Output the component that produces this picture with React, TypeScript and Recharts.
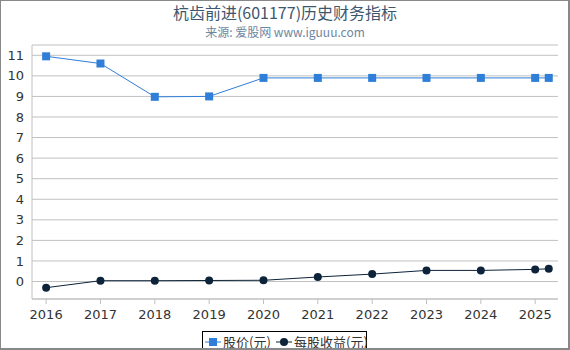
import { LineChart, Line, XAxis, YAxis, CartesianGrid } from 'recharts';

// x positions (years); the last point is a partial-year reading
const years = [2016, 2017, 2018, 2019, 2020, 2021, 2022, 2023, 2024, 2025, 2025.25];
const price = [10.95, 10.6, 8.98, 9.0, 9.9, 9.9, 9.9, 9.9, 9.9, 9.9, 9.9];
const eps = [-0.3, 0.04, 0.04, 0.05, 0.06, 0.22, 0.36, 0.54, 0.54, 0.59, 0.62];
const xTicks = [2016, 2017, 2018, 2019, 2020, 2021, 2022, 2023, 2024, 2025];
const yTicks = [0, 1, 2, 3, 4, 5, 6, 7, 8, 9, 10, 11];

const title = '杭齿前进(601177)历史财务指标';
const subtitle = '来源: 爱股网 www.iguuu.com';
const priceName = '股价(元)';
const epsName = '每股收益(元)';

const data = years.map((x, i) => ({ x, price: price[i], eps: eps[i] }));

const BLUE = '#2f7ed8';
const NAVY = '#0d233a';
const FONT = '"DejaVu Sans", "Noto Sans CJK SC", sans-serif';
const CJK = '"Noto Sans CJK SC", "DejaVu Sans", sans-serif';

const SquareDot = (props: any) => {
  const { cx, cy, index } = props;
  if (cx == null || cy == null) return null;
  return <rect key={`sq-${index}`} x={cx - 4} y={cy - 4} width={8} height={8} fill={BLUE} />;
};

const legendText: React.CSSProperties = {
  position: 'absolute',
  top: 3,
  lineHeight: '14px',
  fontFamily: CJK,
  fontSize: 13,
  color: '#333',
  whiteSpace: 'nowrap',
};

export default function App() {
  return (
    <div
      style={{
        position: 'absolute',
        left: 0,
        top: 0,
        width: 570,
        height: 350,
        overflow: 'hidden',
        background: '#fff',
      }}
    >
      <div
        style={{
          position: 'absolute',
          top: 2,
          width: 570,
          textAlign: 'center',
          fontFamily: CJK,
          fontSize: 16,
          color: '#3e576f',
          lineHeight: '20px',
        }}
      >
        {title}
      </div>
      <div
        style={{
          position: 'absolute',
          top: 24,
          width: 570,
          textAlign: 'center',
          fontFamily: CJK,
          fontSize: 12,
          color: '#6d869f',
          lineHeight: '16px',
        }}
      >
        {subtitle}
      </div>

      <div style={{ position: 'absolute', left: 0, top: 0 }}>
        <LineChart width={570} height={350} data={data} margin={{ top: 45, right: 12, left: 0, bottom: 31 }}>
          <CartesianGrid horizontal vertical={false} stroke="#c0c0c0" />
          <XAxis
            dataKey="x"
            type="number"
            domain={[2015.74, 2025.42]}
            ticks={xTicks}
            interval={0}
            allowDataOverflow
            height={20}
            stroke="#c0c0c0"
            tickSize={5}
            tickMargin={6}
            tick={{ fill: '#333', fontSize: 13, fontFamily: FONT }}
          />
          <YAxis
            type="number"
            domain={[-0.85, 11.5]}
            ticks={yTicks}
            interval={0}
            allowDataOverflow
            width={32}
            stroke="#c0c0c0"
            tickLine={false}
            tick={{ fill: '#333', fontSize: 13, fontFamily: FONT }}
          />
          <Line
            dataKey="price"
            stroke={BLUE}
            strokeWidth={1}
            dot={SquareDot}
            activeDot={false}
            isAnimationActive={false}
          />
          <Line
            dataKey="eps"
            stroke={NAVY}
            strokeWidth={1}
            dot={{ r: 4, fill: NAVY, stroke: NAVY, strokeWidth: 0 }}
            activeDot={false}
            isAnimationActive={false}
          />
        </LineChart>
      </div>

      {/* legend */}
      <div
        style={{
          position: 'absolute',
          left: 202,
          top: 331,
          width: 165,
          height: 24,
          boxSizing: 'border-box',
          border: '1px solid #000',
        }}
      >
        <svg width={16} height={10} style={{ position: 'absolute', left: 2, top: 5 }}>
          <line x1={0} y1={5} x2={16} y2={5} stroke={BLUE} strokeWidth={1} />
          <rect x={4} y={1} width={8} height={8} fill={BLUE} />
        </svg>
        <span style={{ ...legendText, left: 20 }}>{priceName}</span>
        <svg width={16} height={10} style={{ position: 'absolute', left: 73, top: 5 }}>
          <line x1={0} y1={5} x2={16} y2={5} stroke={NAVY} strokeWidth={1} />
          <circle cx={8} cy={5} r={4} fill={NAVY} />
        </svg>
        <span style={{ ...legendText, left: 91 }}>{epsName}</span>
      </div>

      {/* outer frame */}
      <div
        style={{
          position: 'absolute',
          left: 0,
          top: 0,
          width: 570,
          height: 350,
          boxSizing: 'border-box',
          borderStyle: 'solid',
          borderColor: '#888',
          borderWidth: '1px 2px 2px 1px',
          pointerEvents: 'none',
        }}
      />
    </div>
  );
}
